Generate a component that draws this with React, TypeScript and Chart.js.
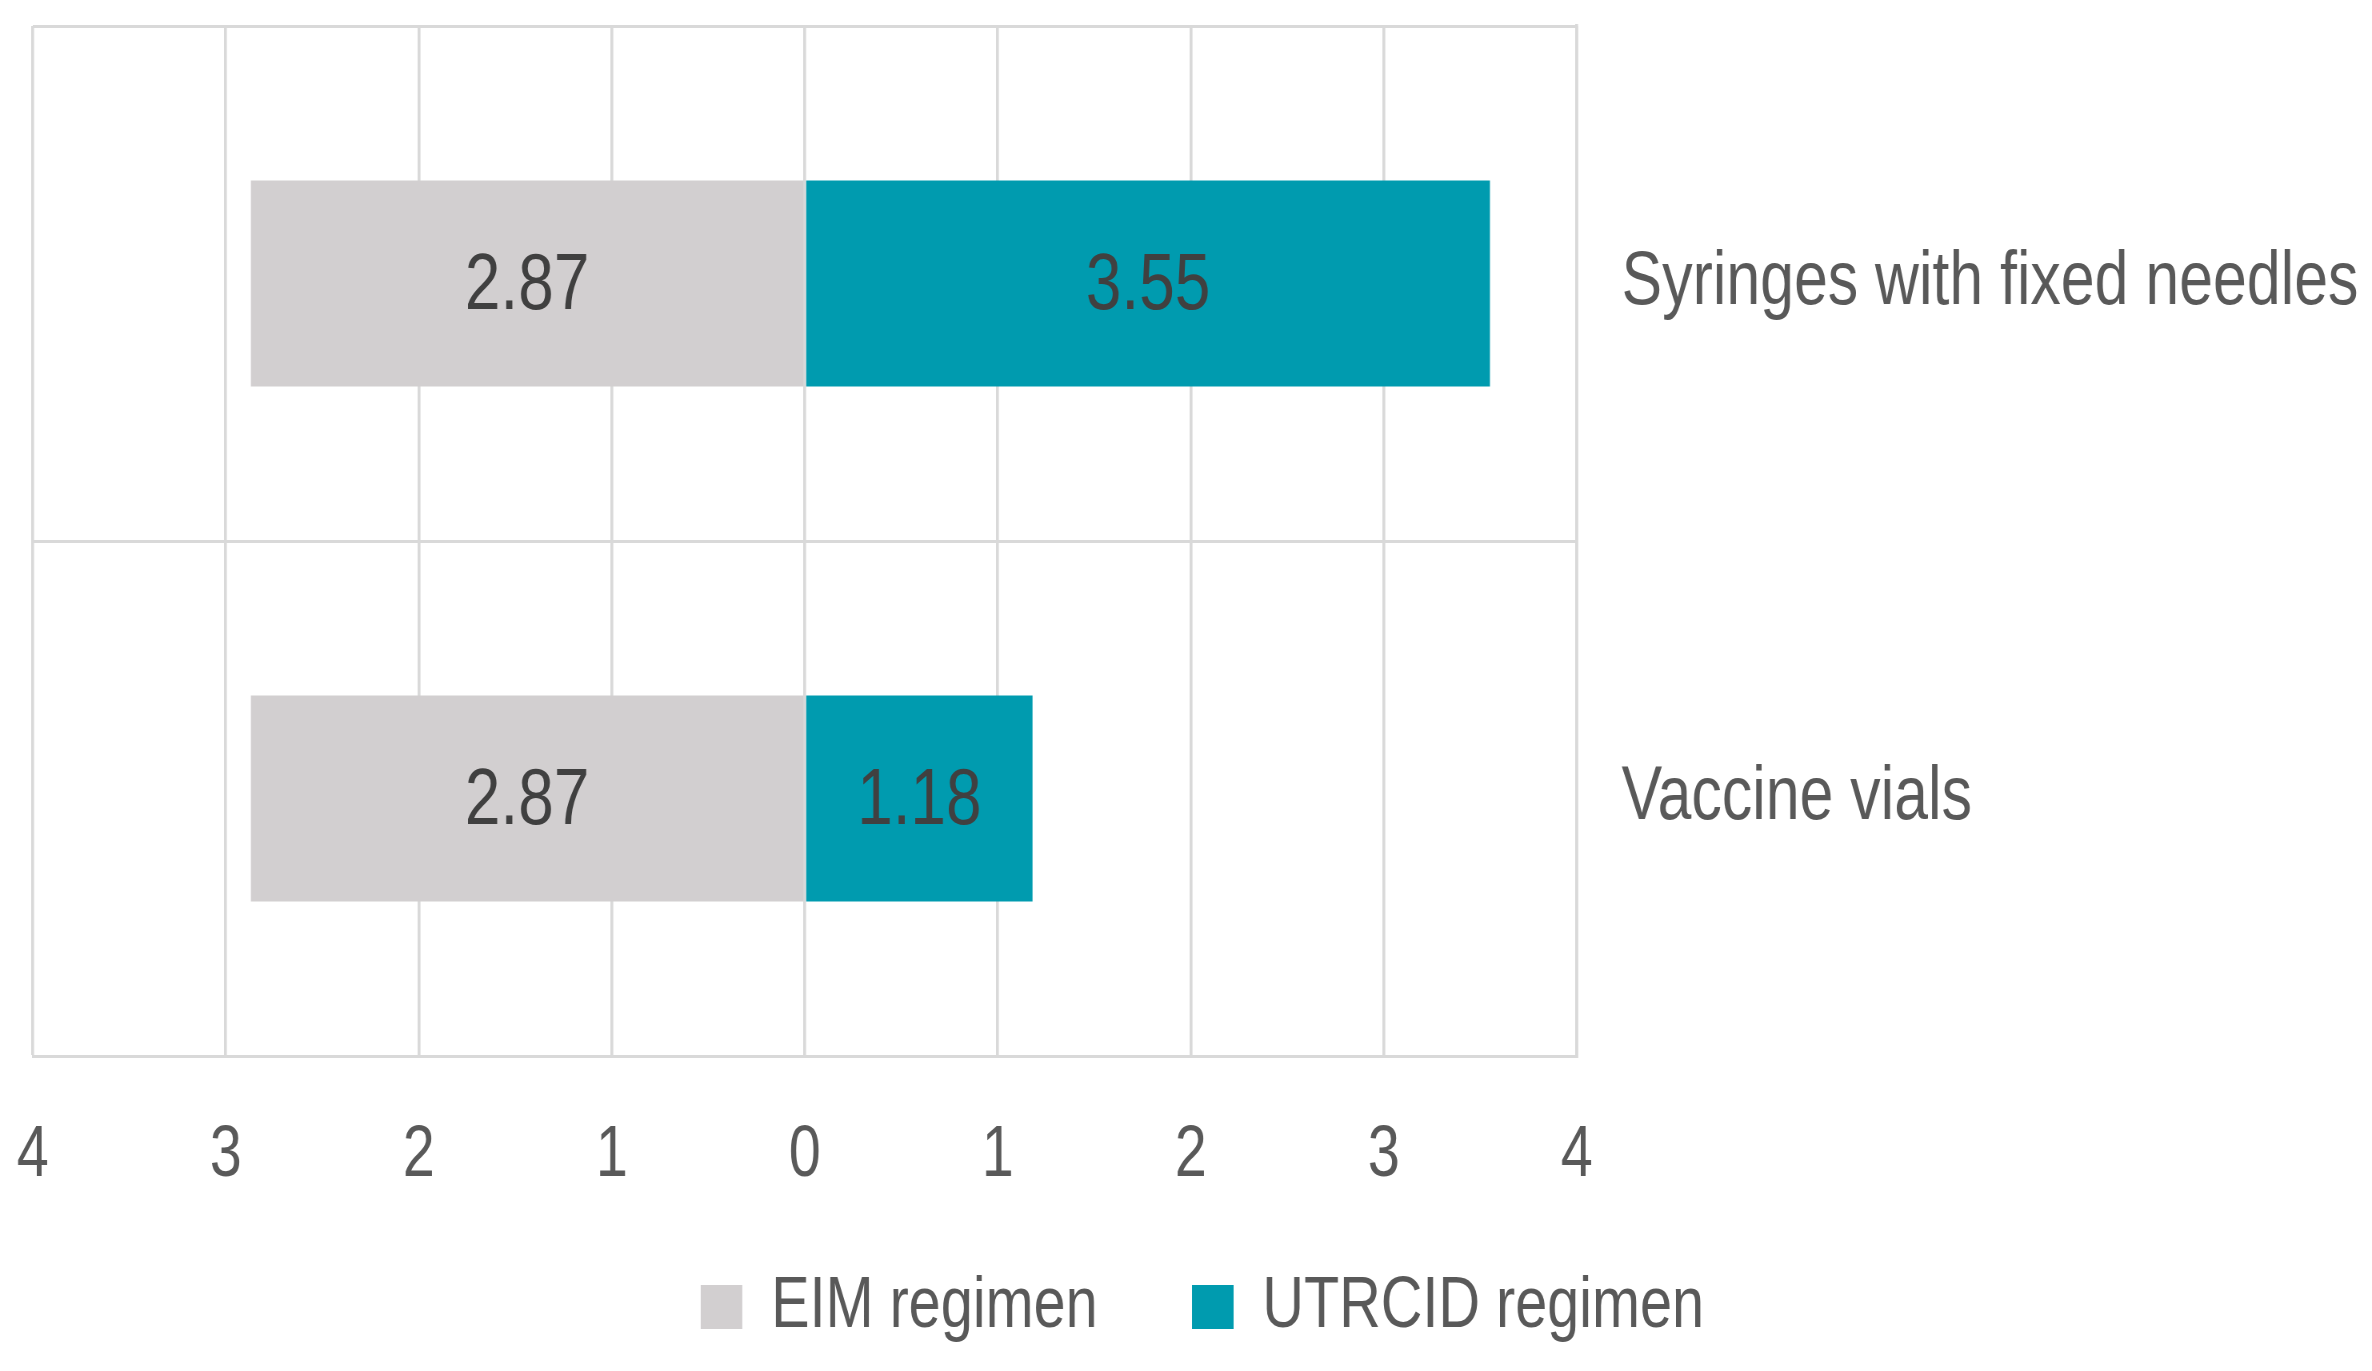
import React, { useEffect, useRef } from "react";
import { Chart, registerables, ChartConfiguration } from "chart.js";

Chart.register(...registerables);

// data
const categories = ["Syringes with fixed needles", "Vaccine vials"];
const eimValues = [2.87, 2.87];
const utrcidValues = [3.55, 1.18];
const xTicks = [-4, -3, -2, -1, 0, 1, 2, 3, 4];

// the original uses a condensed face; we squeeze the whole canvas horizontally instead
const SQUEEZE = 0.8;
const PAGE_W = 2372;
const PAGE_H = 1371;
const WIDE_W = PAGE_W / SQUEEZE;

const FONT = "'Liberation Sans', Arial, sans-serif";
const GRID = "#D9D9D9";

// writes the value in the middle of each bar
const barLabels = {
  id: "barLabels",
  afterDatasetsDraw(chart: any) {
    const ctx = chart.ctx;
    ctx.save();
    ctx.font = `80px ${FONT}`;
    ctx.fillStyle = "#404040";
    ctx.textAlign = "center";
    ctx.textBaseline = "middle";
    chart.data.datasets.forEach((ds: any, di: number) => {
      const meta = chart.getDatasetMeta(di);
      meta.data.forEach((el: any, i: number) => {
        const v = Math.abs(ds.data[i]);
        ctx.fillText(v.toFixed(2), (el.x + el.base) / 2, el.y + 3);
      });
    });
    ctx.restore();
  },
};

const App: React.FC = () => {
  const chartRef = useRef<HTMLCanvasElement | null>(null);

  useEffect(() => {
    const ctx = chartRef.current?.getContext("2d");
    if (!ctx) return;

    const chart = new Chart(ctx, {
      type: "bar",
      data: {
        labels: categories,
        datasets: [
          {
            label: "EIM regimen",
            data: eimValues.map((v) => -v),
            backgroundColor: "#D2CFD0",
            borderWidth: 0,
            barPercentage: 0.4,
            categoryPercentage: 1,
          },
          {
            label: "UTRCID regimen",
            data: utrcidValues,
            backgroundColor: "#009BAF",
            borderWidth: 0,
            barPercentage: 0.4,
            categoryPercentage: 1,
          },
        ],
      },
      options: {
        indexAxis: "y",
        animation: false,
        responsive: true,
        maintainAspectRatio: false,
        layout: { padding: { top: 26, left: 41, right: 0, bottom: 18 } },
        scales: {
          x: {
            stacked: true,
            min: -4,
            max: 4,
            afterBuildTicks: (scale: any) => {
              scale.ticks = xTicks.map((v) => ({ value: v }));
            },
            afterFit: (scale: any) => {
              scale.height = 97;
              scale.paddingLeft = 0;
              scale.paddingRight = 0;
            },
            grid: { color: GRID, lineWidth: 3.6, drawTicks: false },
            border: { color: GRID, width: 3 },
            ticks: {
              // mirrored so the labels are not clipped to the short axis box
              mirror: true,
              padding: -143,
              color: "#595959",
              font: { family: FONT, size: 72 },
              maxRotation: 0,
              callback: (value: any) => Math.abs(value),
            },
          },
          y: {
            stacked: true,
            position: "right",
            afterFit: (scale: any) => {
              scale.width = 994;
              scale.paddingTop = 0;
              scale.paddingBottom = 0;
            },
            grid: { color: GRID, lineWidth: 3, drawTicks: false, offset: true },
            border: { color: GRID, width: 3.6 },
            ticks: {
              padding: 56,
              color: "#595959",
              font: { family: FONT, size: 76 },
            },
          },
        },
        plugins: {
          legend: {
            position: "bottom",
            labels: {
              color: "#595959",
              font: { family: FONT, size: 72 },
              boxWidth: 52,
              boxHeight: 44,
              padding: 118,
            },
          },
          tooltip: { enabled: false },
        },
      },
      plugins: [barLabels],
    } as ChartConfiguration);

    return () => {
      chart.destroy();
    };
  }, []);

  return (
    <div
      style={{
        position: "fixed",
        left: 0,
        top: 0,
        width: PAGE_W,
        height: PAGE_H,
        overflow: "hidden",
        background: "#fff",
      }}
    >
      <div
        style={{
          width: WIDE_W,
          height: PAGE_H,
          transform: `scaleX(${SQUEEZE})`,
          transformOrigin: "0 0",
        }}
      >
        <canvas ref={chartRef}></canvas>
      </div>
    </div>
  );
};

export default App;
